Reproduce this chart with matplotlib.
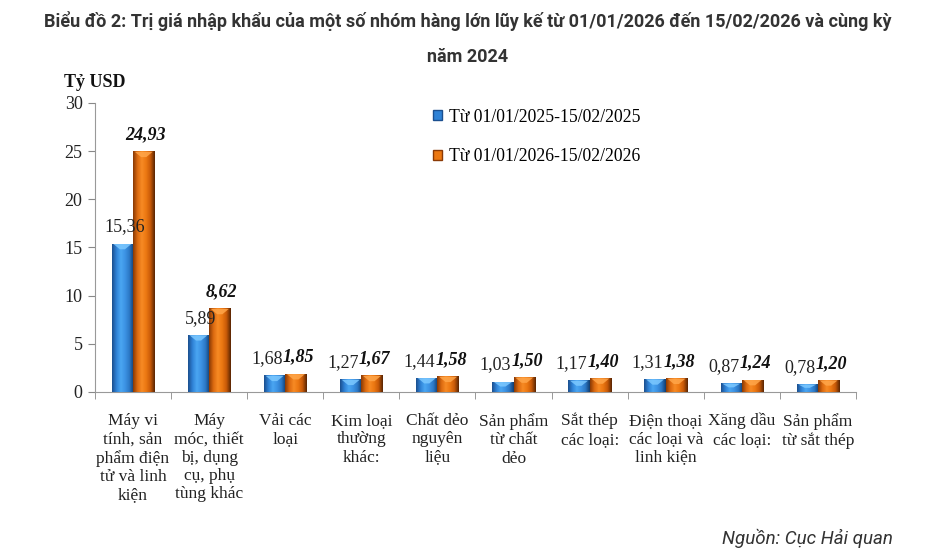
import numpy as np
import matplotlib
matplotlib.use('Agg')
from matplotlib import pyplot as plt
from matplotlib.colors import LinearSegmentedColormap
from matplotlib.patches import Patch, Polygon

categories = ["Máy vi\ntính, sản\nphẩm điện\ntử và linh\nkiện",
              "Máy\nmóc, thiết\nbị, dụng\ncụ, phụ\ntùng khác",
              "Vải các\nloại",
              "Kim loại\nthường\nkhác:",
              "Chất dẻo\nnguyên\nliệu",
              "Sản phẩm\ntừ chất\ndẻo",
              "Sắt thép\ncác loại:",
              "Điện thoại\ncác loại và\nlinh kiện",
              "Xăng dầu\ncác loại:",
              "Sản phẩm\ntừ sắt thép"]
val_2025 = [15.36, 5.89, 1.68, 1.27, 1.44, 1.03, 1.17, 1.31, 0.87, 0.78]
val_2026 = [24.93, 8.62, 1.85, 1.67, 1.58, 1.50, 1.40, 1.38, 1.24, 1.20]
series_names = ["Từ 01/01/2025-15/02/2025", "Từ 01/01/2026-15/02/2026"]
yticks = [0, 5, 10, 15, 20, 25, 30]

serif = 'Liberation Serif'
sans = 'Roboto'

blue_cm = LinearSegmentedColormap.from_list('b', ['#1b4f8f', '#2f82d6', '#4aa6f2', '#3d93e4', '#2c78c6', '#123e70'])
orange_cm = LinearSegmentedColormap.from_list('o', ['#8a3a05', '#dc6a10', '#f78a24', '#ec7812', '#c85a08', '#5a2503'])

fig = plt.figure(figsize=(9.36, 5.58), dpi=100)
ax = fig.add_axes([0.1015, 0.2975, 0.813, 0.518])

x = np.arange(len(categories))
w = 0.28
b1 = ax.bar(x - w / 2, val_2025, w, color='#3d93e4', zorder=2)
b2 = ax.bar(x + w / 2, val_2026, w, color='#ec7812', zorder=2)

# cylinder-ish shading + light bevel on top, like the excel chart
grad = np.linspace(0, 1, 64).reshape(1, -1)
for bars, cm, top in ((b1, blue_cm, '#7cc8ff'), (b2, orange_cm, '#ffa64a')):
    for r in bars:
        x0, bw, h = r.get_x(), r.get_width(), r.get_height()
        ax.imshow(grad, cmap=cm, aspect='auto', extent=(x0, x0 + bw, 0, h), zorder=3)
        d = min(0.55, h * 0.45)
        ax.add_patch(Polygon([(x0 + bw * 0.08, h), (x0 + bw * 0.92, h), (x0 + bw * 0.62, h - d),
                              (x0 + bw * 0.38, h - d)], closed=True, color=top, alpha=0.85,
                             lw=0, zorder=3.5))

off = 1.3
for i in range(len(categories)):
    t1 = f"{val_2025[i]:.2f}".replace('.', ',')
    t2 = f"{val_2026[i]:.2f}".replace('.', ',')
    if val_2026[i] > 5:
        x1, ha1, x2, ha2 = x[i] - w / 2 + 0.03, 'center', x[i] + w / 2 + 0.02, 'center'
    else:
        x1, ha1, x2, ha2 = x[i] - 0.03, 'right', x[i] - 0.03, 'left'
    ax.text(x1, val_2025[i] + off, t1, ha=ha1, va='baseline', family=serif, fontsize=13,
            color='#222222', zorder=4)
    ax.text(x2, val_2026[i] + off, t2, ha=ha2, va='baseline', family=serif, fontsize=13,
            fontweight='bold', style='italic', color='#111111', zorder=4)

ax.set_xlim(-0.5, len(categories) - 0.5)
ax.set_ylim(0, 30)
ax.set_yticks(yticks)
ax.set_yticklabels([str(v) for v in yticks], family=serif, fontsize=13, color='#222222')
ax.set_xticks(x)
ax.set_xticklabels(categories, family=serif, fontsize=12.5, color='#222222', linespacing=1.2)
ax.set_xticks(np.arange(len(categories) + 1) - 0.5, minor=True)
ax.tick_params(axis='x', which='major', length=0, pad=15)
ax.tick_params(axis='x', which='minor', length=5, color='#888888', direction='out')
ax.tick_params(axis='y', length=5, color='#888888', direction='out', pad=4)
for s in ('top', 'right'):
    ax.spines[s].set_visible(False)
for s in ('left', 'bottom'):
    ax.spines[s].set_color('#999999')

fig.text(0.1015 - 0.033, 0.853, "Tỷ USD", family=serif, fontsize=13, fontweight='bold',
         ha='left', va='center', color='#111111')

handles = [Patch(facecolor='#2f82d6', edgecolor='#1b4f8f'), Patch(facecolor='#ec7812', edgecolor='#8a3a05')]
fig.legend(handles, series_names, loc='upper left', bbox_to_anchor=(0.446, 0.834), frameon=False,
           handlelength=0.5, handleheight=0.5, handletextpad=0.4, labelspacing=1.3,
           prop={'family': serif, 'size': 12.7})

fig.text(0.5, 0.963, "Biểu đồ 2: Trị giá nhập khẩu của một số nhóm hàng lớn lũy kế từ 01/01/2026 đến 15/02/2026 và cùng kỳ",
         ha='center', va='center', family=sans, fontweight='bold', fontsize=13, color='#333333')
fig.text(0.5, 0.897, "năm 2024", ha='center', va='center', family=sans, fontweight='bold',
         fontsize=13, color='#333333')
fig.text(0.954, 0.035, "Nguồn: Cục Hải quan", ha='right', va='center', family=sans,
         style='italic', fontsize=13.5, color='#333333')

fig.savefig('out.png', dpi=100)
